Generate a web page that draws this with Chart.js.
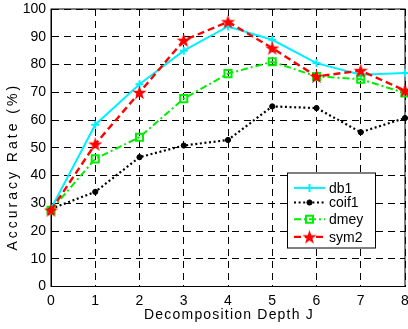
<!DOCTYPE html>
<html>
<head>
<meta charset="utf-8">
<script src="https://cdn.jsdelivr.net/npm/chart.js@4/dist/chart.umd.min.js"></script>
<style>
  html, body { margin: 0; padding: 0; background: #fff; }
  canvas { display: block; }
</style>
</head>
<body>
<canvas id="chart" width="408" height="329"></canvas>
<script>
// Decomposition depth J on the x axis, accuracy (%) on the y axis
const depths = ['0', '1', '2', '3', '4', '5', '6', '7', '8'];
const yTicks = [0, 10, 20, 30, 40, 50, 60, 70, 80, 90, 100];

const db1   = [28, 58.3, 72.9, 85.0, 93.7, 88.9, 80.5, 76.3, 76.9];
const coif1 = [28, 34.1, 46.6, 50.8, 52.8, 64.9, 64.3, 55.6, 60.7];
const dmey  = [27.5, 46.0, 53.8, 67.7, 76.7, 81.0, 75.7, 74.7, 69.7];
const sym2  = [27.5, 51.3, 69.9, 88.7, 95.4, 85.9, 75.7, 77.8, 70.6];

const xTitle = 'Decomposition Depth J';
const yTitle = 'Accuracy Rate (%)';

const FONT = 'Liberation Sans, Arial, Helvetica, sans-serif';

// filled five-point star, matlab 'p' marker
function makeStar(size, color) {
  const c = document.createElement('canvas');
  c.width = size; c.height = size;
  const g = c.getContext('2d');
  const cx = size / 2, cy = size / 2 + 0.6;
  const R = size / 2, r = R * 0.4;
  g.beginPath();
  for (let i = 0; i < 10; i++) {
    const rad = i % 2 === 0 ? R : r;
    const a = -Math.PI / 2 + i * Math.PI / 5;
    const px = cx + rad * Math.cos(a), py = cy + rad * Math.sin(a);
    if (i === 0) g.moveTo(px, py); else g.lineTo(px, py);
  }
  g.closePath();
  g.fillStyle = color;
  g.fill();
  return c;
}
const starImg = makeStar(15, '#ff0000');

const series = [
  { label: 'db1', data: db1, borderColor: '#00f0ff', borderWidth: 2, borderDash: [],
    pointStyle: 'cross', pointRadius: 4, pointBorderWidth: 2, pointBackgroundColor: '#00f0ff', order: 3 },
  { label: 'coif1', data: coif1, borderColor: '#000000', borderWidth: 2.2, borderDash: [2, 2.6],
    pointStyle: 'circle', pointRadius: 2.6, pointBorderWidth: 1, pointBackgroundColor: '#000000', order: 2 },
  { label: 'dmey', data: dmey, borderColor: '#00ee00', borderWidth: 2, borderDash: [7, 3, 2, 3],
    pointStyle: 'rect', pointRadius: 5, pointBorderWidth: 2, pointBackgroundColor: 'rgba(0,0,0,0)', order: 1 },
  { label: 'sym2', data: sym2, borderColor: '#ff0000', borderWidth: 2.4, borderDash: [7, 4],
    pointStyle: starImg, pointRadius: 7, pointBorderWidth: 0, pointBackgroundColor: '#ff0000', order: 0 }
];

// solid box around the axes, under the lines
const frame = {
  id: 'frame',
  beforeDatasetsDraw(chart) {
    const { ctx, chartArea: a } = chart;
    ctx.save();
    ctx.strokeStyle = '#000';
    ctx.lineWidth = 1;
    ctx.setLineDash([]);
    ctx.strokeRect(a.left, a.top, a.right - a.left, a.bottom - a.top);
    ctx.restore();
  }
};

// axis titles, drawn by hand so the wide matlab letter spacing can be kept
const axisTitles = {
  id: 'axisTitles',
  afterDraw(chart) {
    const { ctx, chartArea: a } = chart;
    ctx.save();
    ctx.fillStyle = '#000';
    ctx.font = '14px ' + FONT;
    ctx.textAlign = 'center';
    ctx.textBaseline = 'middle';
    ctx.letterSpacing = '1.2px';
    ctx.fillText(xTitle, (a.left + a.right) / 2 + 1, 315);
    ctx.translate(13, (a.top + a.bottom) / 2 + 19);
    ctx.rotate(-Math.PI / 2);
    ctx.letterSpacing = '3px';
    ctx.fillText(yTitle, 0, 0);
    ctx.restore();
  }
};

// matlab style legend: line sample with the marker in its middle
const legendBox = {
  id: 'legendBox',
  afterDatasetsDraw(chart) {
    const { ctx, chartArea: a } = chart;
    const x0 = a.right - 118, y0 = a.bottom - 114, w = 88, h = 75;
    ctx.save();
    ctx.fillStyle = '#fff';
    ctx.fillRect(x0, y0, w, h);
    ctx.strokeStyle = '#000';
    ctx.lineWidth = 1;
    ctx.strokeRect(x0 + 0.5, y0 + 0.5, w, h);
    const rows = [15.4, 30, 46.7, 64.4];
    series.forEach((s, i) => {
      const y = y0 + rows[i];
      ctx.strokeStyle = s.borderColor;
      ctx.lineWidth = s.borderWidth;
      ctx.setLineDash(s.borderDash);
      ctx.beginPath();
      ctx.moveTo(x0 + 7, y);
      ctx.lineTo(x0 + 38, y);
      ctx.stroke();
      ctx.setLineDash([]);
      ctx.strokeStyle = s.borderColor;
      ctx.fillStyle = s.pointBackgroundColor;
      ctx.lineWidth = s.pointBorderWidth;
      Chart.helpers.drawPoint(ctx, {
        pointStyle: s.pointStyle, radius: s.pointRadius, rotation: 0, borderWidth: s.pointBorderWidth
      }, x0 + 22.5, y);
      ctx.fillStyle = '#000';
      ctx.font = '14px ' + FONT;
      ctx.textBaseline = 'middle';
      ctx.fillText(s.label, x0 + 42, y + 1);
    });
    ctx.restore();
  }
};

new Chart(document.getElementById('chart'), {
  type: 'line',
  data: {
    labels: depths,
    datasets: series.map(s => ({
      label: s.label,
      data: s.data,
      borderColor: s.borderColor,
      borderWidth: s.borderWidth,
      borderDash: s.borderDash,
      pointStyle: s.pointStyle,
      pointRadius: s.pointRadius,
      pointBorderWidth: s.pointBorderWidth,
      pointBorderColor: s.borderColor,
      pointBackgroundColor: s.pointBackgroundColor,
      fill: false,
      tension: 0,
      clip: false,
      order: s.order
    }))
  },
  options: {
    responsive: false,
    animation: false,
    devicePixelRatio: 1,
    layout: { autoPadding: false, padding: { top: 9, right: 3, left: 0, bottom: 0 } },
    plugins: { legend: { display: false }, tooltip: { enabled: false } },
    scales: {
      x: {
        offset: false,
        grid: { color: '#000', lineWidth: 1, drawTicks: false },
        border: { display: true, color: '#000', width: 1, dash: [7, 5] },
        ticks: { color: '#000', padding: 6, maxRotation: 0, font: { family: FONT, size: 14 } },
        afterFit(scale) { scale.height = 42.5; scale.paddingLeft = 0; scale.paddingRight = 0; }
      },
      y: {
        min: 0,
        max: 100,
        afterBuildTicks(scale) { scale.ticks = yTicks.map(v => ({ value: v })); },
        grid: { color: '#000', lineWidth: 1, drawTicks: false },
        border: { display: true, color: '#000', width: 1, dash: [7, 5] },
        ticks: { color: '#000', padding: 5, font: { family: FONT, size: 14 } },
        afterFit(scale) { scale.width = 51; scale.paddingTop = 0; scale.paddingBottom = 0; }
      }
    }
  },
  plugins: [frame, legendBox, axisTitles]
});
</script>
</body>
</html>
